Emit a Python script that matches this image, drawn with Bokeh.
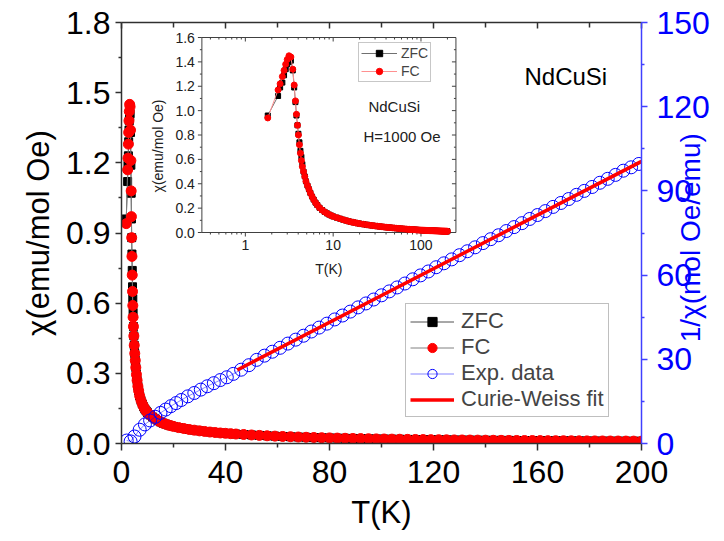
import math
from bokeh.plotting import figure
from bokeh.models import Range1d, LinearAxis, FixedTicker, Legend, LegendItem, Label, LogScale
from bokeh.core.properties import value
from bokeh.embed import file_html
from bokeh.resources import INLINE

FONT = "Liberation Sans"

# ---------------- data ----------------
T = [1.8, 2.36, 2.49, 2.64, 2.76, 2.88, 3.0, 3.14, 3.3, 3.47, 3.6, 3.72, 3.82, 3.92,
     4.02, 4.13, 4.24, 4.35, 4.46, 4.6, 4.75, 4.9, 5.1, 5.3, 5.5, 5.75, 6.0, 6.3, 6.6,
     7.0, 7.5, 8.0, 8.5, 9.0, 9.5, 10, 11, 12, 13, 14, 15, 16, 17, 18, 19, 20, 22, 24,
     26, 28, 30, 32, 34, 36, 38, 40, 42, 44, 47, 50, 53, 56, 59, 62, 65, 68, 71, 74,
     77, 80, 83, 86, 89, 92, 95, 98, 101, 104, 107, 110, 113, 116, 119, 122, 125, 128,
     131, 134, 137, 140, 143, 146, 149, 152, 155, 158, 161, 164, 167, 170, 173, 176,
     179, 182, 185, 188, 191, 194, 197, 200]

chi_fc = [0.94, 1.17, 1.22, 1.28, 1.33, 1.38, 1.42, 1.45, 1.44, 1.34, 1.21, 1.08, 0.97,
          0.88, 0.80, 0.72, 0.65, 0.59, 0.54, 0.50, 0.46, 0.42, 0.385, 0.355, 0.325, 0.295,
          0.27, 0.245, 0.225, 0.203, 0.184, 0.169, 0.157, 0.147, 0.139, 0.132, 0.122, 0.113,
          0.105, 0.098, 0.092, 0.087, 0.083, 0.079, 0.076, 0.073, 0.068, 0.064, 0.060, 0.057,
          0.054, 0.0515, 0.049, 0.047, 0.045, 0.0435, 0.042, 0.0405, 0.0385, 0.0365, 0.0347,
          0.0330, 0.0315, 0.0301, 0.0289, 0.0277, 0.0266, 0.0256, 0.0247, 0.0239, 0.0231,
          0.0223, 0.0216, 0.0210, 0.0203, 0.0197, 0.0192, 0.0187, 0.0182, 0.0177, 0.0173,
          0.0168, 0.0164, 0.0161, 0.0157, 0.0153, 0.0150, 0.0147, 0.0144, 0.0141, 0.0138,
          0.0135, 0.0133, 0.0130, 0.0128, 0.0126, 0.0123, 0.0121, 0.0119, 0.0117, 0.0115,
          0.0113, 0.0111, 0.0110, 0.0108, 0.0106, 0.0105, 0.0103, 0.0101, 0.0100]

chi_zfc_low = [0.96, 1.12, 1.19, 1.23, 1.29, 1.34, 1.38, 1.40, 1.41, 1.33, 1.19, 1.07,
               0.96, 0.88, 0.81, 0.74, 0.67, 0.62, 0.56]
chi_zfc = chi_zfc_low + chi_fc[len(chi_zfc_low):]

T_inv = [2, 3.5, 5, 7, 9, 11, 13, 15, 17, 19, 21, 23, 25.5, 28, 30.5, 33, 35.5, 38, 40.5,
         43, 46, 49, 52, 55, 58, 61, 64, 67, 70, 73, 76, 79, 82, 85, 88, 91, 94, 97, 100,
         103, 106, 109, 112, 115, 118, 121, 124, 127, 130, 133, 136, 139, 142, 145, 148,
         151, 154, 157, 160, 163, 166, 169, 172, 175, 178, 181, 184, 187, 190, 193, 196, 199]
inv_chi = [1.06, 0.75, 2.5, 4.9, 6.8, 8.2, 9.5, 10.9, 12.1, 13.3, 14.4, 15.5, 16.8, 18.0,
           19.2, 20.4, 21.5, 22.6, 23.6, 24.8, 26.3, 27.9, 29.8, 31.3, 32.7, 34.1, 35.6,
           37.0, 38.4, 39.9, 41.3, 42.7, 44.2, 45.6, 47.0, 48.5, 49.9, 51.3, 52.8, 54.2,
           55.6, 57.0, 58.5, 59.9, 61.3, 62.8, 64.2, 65.6, 67.1, 68.5, 69.9, 71.4, 72.8,
           74.2, 75.7, 77.1, 78.5, 80.0, 81.4, 82.8, 84.3, 85.7, 87.1, 88.6, 90.0, 91.4,
           92.9, 94.3, 95.7, 97.2, 98.4, 99.6]

T_fit = [44.5, 200]
inv_fit = [26.2, 100.5]

x_ticks = [0, 40, 80, 120, 160, 200]
x_minor = [20, 60, 100, 140, 180]
y_ticks = [0.0, 0.3, 0.6, 0.9, 1.2, 1.5, 1.8]
y_minor = [0.15, 0.45, 0.75, 1.05, 1.35, 1.65]
r_ticks = [0, 30, 60, 90, 120, 150]
r_minor = [15, 45, 75, 105, 135]

# inset axes
ix_lo, ix_hi = 0.32, 250
iy_lo, iy_hi = 0.0, 1.6
ix_ticks = [1, 10, 100]
ix_labels = ["1", "10", "100"]
ix_minor = [0.4, 0.5, 0.6, 0.7, 0.8, 0.9, 2, 3, 4, 5, 6, 7, 8, 9,
            20, 30, 40, 50, 60, 70, 80, 90, 200]
iy_ticks = [0.0, 0.2, 0.4, 0.6, 0.8, 1.0, 1.2, 1.4, 1.6]
iy_labels = ["0.0", "0.2", "0.4", "0.6", "0.8", "1.0", "1.2", "1.4", "1.6"]
iy_minor = [0.1, 0.3, 0.5, 0.7, 0.9, 1.1, 1.3, 1.5]

AX = "#303030"
BLUE = "#0000ff"

# ---------------- layout geometry (pixels on the canvas) ----------------
W, H = 724, 540
FRAME_L, FRAME_R, FRAME_T, FRAME_B = 121, 645, 22, 443
INS_L, INS_R, INS_T, INS_B = 202, 458, 37, 232

dec_per_px = (math.log10(ix_hi) - math.log10(ix_lo)) / (INS_R - INS_L)
ix_frame_lo = 10 ** (math.log10(ix_lo) - (INS_L - FRAME_L) * dec_per_px)
ix_frame_hi = 10 ** (math.log10(ix_hi) + (FRAME_R - INS_R) * dec_per_px)
val_per_px = (iy_hi - iy_lo) / (INS_B - INS_T)
iy_frame_lo = iy_lo - (FRAME_B - INS_B) * val_per_px
iy_frame_hi = iy_hi + (INS_T - FRAME_T) * val_per_px

# ---------------- main figure ----------------
p = figure(width=W, height=H, x_range=Range1d(0, 200), y_range=Range1d(0, 1.8),
           output_backend="svg", toolbar_location=None,
           min_border_left=FRAME_L, min_border_top=FRAME_T,
           min_border_right=W - FRAME_R, min_border_bottom=H - FRAME_B)
p.outline_line_color = None
p.xgrid.grid_line_color = None
p.ygrid.grid_line_color = None
p.extra_y_ranges = {"inv": Range1d(0, 150), "iy": Range1d(iy_frame_lo, iy_frame_hi)}
p.extra_x_ranges = {"ix": Range1d(ix_frame_lo, ix_frame_hi)}
p.extra_x_scales = {"ix": LogScale()}

def style_axis(ax, size="32px"):
    ax.axis_line_color = AX
    ax.axis_line_width = 1.5
    ax.major_tick_line_color = AX
    ax.minor_tick_line_color = AX
    ax.major_tick_line_width = 1.5
    ax.minor_tick_line_width = 1.5
    ax.major_label_text_font = FONT
    ax.major_label_text_font_size = size
    ax.major_label_text_color = "black"
    ax.axis_label_text_font = FONT
    ax.axis_label_text_font_style = "normal"
    ax.axis_label_text_color = "black"

xb = p.xaxis[0]
xb.ticker = FixedTicker(ticks=x_ticks, minor_ticks=x_minor)
style_axis(xb)
xb.axis_label = "T(K)"
xb.axis_label_text_font_size = "31px"
xb.major_tick_out = 7
xb.major_tick_in = 0
xb.minor_tick_out = 4
xb.minor_tick_in = 0
xb.major_label_standoff = 10
xb.axis_label_standoff = 9

yl = p.yaxis[0]
yl.ticker = FixedTicker(ticks=y_ticks, minor_ticks=y_minor)
style_axis(yl)
yl.major_label_overrides = {0: "0.0"}
yl.axis_label = "χ(emu/mol Oe)"
yl.axis_label_text_font_size = "31px"
yl.major_tick_out = 6
yl.major_tick_in = 0
yl.minor_tick_out = 3
yl.minor_tick_in = 0
yl.major_label_standoff = 5
yl.axis_label_standoff = 7

xt = LinearAxis(ticker=FixedTicker(ticks=x_ticks, minor_ticks=x_minor))
style_axis(xt)
xt.major_label_text_font_size = "1px"
xt.major_label_text_color = None
xt.major_label_standoff = 0
xt.major_tick_out = 0
xt.major_tick_in = 6
xt.minor_tick_out = 0
xt.minor_tick_in = 5
p.add_layout(xt, "above")

yr = LinearAxis(y_range_name="inv", ticker=FixedTicker(ticks=r_ticks, minor_ticks=r_minor))
style_axis(yr)
yr.axis_line_color = "#4040ff"
yr.major_tick_line_color = "#4040ff"
yr.minor_tick_line_color = "#4040ff"
yr.major_label_text_color = BLUE
yr.major_tick_out = 6
yr.major_tick_in = 0
yr.minor_tick_out = 3
yr.minor_tick_in = 0
yr.major_label_standoff = 9
# the title reads bottom-to-top; it starts from the foot of the axis, the
# no-break spaces lift it to where the reference shows it
yr.axis_label = "\u00a0" * 13 + "1/χ(mol Oe/emu)"
yr.axis_label_text_color = BLUE
yr.axis_label_text_font_size = "28px"
yr.axis_label_standoff = -22
yr.axis_label_orientation = math.pi / 2
yr.axis_label_align = "start"
p.add_layout(yr, "right")

# ---- main data ----
zl = p.line(T, chi_zfc, line_color="#505050", line_width=1)
zs = p.scatter(T, chi_zfc, marker="square", size=8, fill_color="black", line_color="black")
fl = p.line(T, chi_fc, line_color="#808080", line_width=1)
fs = p.scatter(T, chi_fc, marker="circle", size=10, fill_color="red", line_color="red")
il = p.line(T_inv, inv_chi, y_range_name="inv", line_color=BLUE, line_width=0.8, line_alpha=0.6)
isc = p.scatter(T_inv, inv_chi, y_range_name="inv", marker="circle", size=13,
                fill_color=None, line_color=BLUE, line_width=1)
cw = p.line(T_fit, inv_fit, y_range_name="inv", line_color="red", line_width=3.5)

leg = Legend(items=[LegendItem(label="ZFC", renderers=[zl, zs]),
                    LegendItem(label="FC", renderers=[fl, fs]),
                    LegendItem(label="Exp. data", renderers=[il, isc]),
                    LegendItem(label="Curie-Weiss fit", renderers=[cw])],
             location=(405 - FRAME_L, FRAME_B - 417), label_text_font=FONT,
             label_text_font_size="22px",
             glyph_width=44, glyph_height=23, label_height=23, label_standoff=7,
             spacing=0, padding=4, margin=0, border_line_color="#808080",
             border_line_width=1.2, background_fill_color="white", background_fill_alpha=1)
p.add_layout(leg)

p.add_layout(Label(x=155, y=1.57, text="NdCuSi", text_font=FONT, text_font_size="24px",
                   text_baseline="middle", text_color="black"))

# ---------------- inset (drawn on its own log/linear scales) ----------------
IK = dict(x_range_name="ix", y_range_name="iy")
IAX = "#404040"
p.quad(left=[ix_lo], right=[ix_hi], bottom=[iy_lo], top=[iy_hi], fill_color=None,
       line_color=IAX, line_width=1, **IK)

def ticks(xs, ys, length, angle):
    p.ray(x=xs, y=ys, length=length, length_units="screen", angle=angle,
          line_color=IAX, line_width=1, **IK)

down, left = -math.pi / 2, math.pi
ticks(ix_ticks, [iy_lo] * len(ix_ticks), 4, down)          # bottom, outward
ticks(ix_minor, [iy_lo] * len(ix_minor), 2, down)
ticks(ix_ticks, [iy_hi] * len(ix_ticks), 4, down)          # top, inward
ticks(ix_minor, [iy_hi] * len(ix_minor), 2, down)
ticks([ix_lo] * len(iy_ticks), iy_ticks, 4, left)          # left, outward
ticks([ix_lo] * len(iy_minor), iy_minor, 2, left)
ticks([ix_hi] * len(iy_ticks), iy_ticks, 4, left)          # right, inward
ticks([ix_hi] * len(iy_minor), iy_minor, 2, left)

TXT = dict(text_font=value(FONT), text_color="#202020", **IK)
p.text(x=ix_ticks, y=[iy_lo] * len(ix_ticks), text=ix_labels, y_offset=7,
       text_align="center", text_baseline="top", text_font_size=value("14px"), **TXT)
p.text(x=[ix_lo] * len(iy_ticks), y=iy_ticks, text=iy_labels, x_offset=-7,
       text_align="right", text_baseline="middle", text_font_size=value("14px"), **TXT)
p.text(x=[math.sqrt(ix_lo * ix_hi)], y=[iy_lo], text=["T(K)"], y_offset=36,
       text_align="center", text_baseline="middle", text_font_size=value("14px"), **TXT)
p.text(x=[ix_lo], y=[0.71], text=["χ(emu/mol Oe)"], x_offset=-44, angle=math.pi / 2,
       text_align="center", text_baseline="middle", text_font_size=value("14px"), **TXT)

i_zl = p.line(T, chi_zfc, line_color="#707070", line_width=1, **IK)
i_zs = p.scatter(T, chi_zfc, marker="square", size=5, fill_color="black", line_color="black", **IK)
i_fl = p.line(T, chi_fc, line_color="#ff9090", line_width=1, **IK)
i_fs = p.scatter(T, chi_fc, marker="circle", size=6, fill_color="red", line_color="red", **IK)

ileg = Legend(items=[LegendItem(label="ZFC", renderers=[i_zl, i_zs]),
                     LegendItem(label="FC", renderers=[i_fl, i_fs])],
              location=(358 - FRAME_L, FRAME_B - 82), label_text_font=FONT,
              label_text_font_size="14px",
              glyph_width=36, glyph_height=16, label_height=16, label_standoff=4,
              spacing=2, padding=2, margin=0, border_line_color="#909090",
              border_line_width=1, background_fill_color="white", background_fill_alpha=1)
p.add_layout(ileg)

p.add_layout(Label(x=25.2, y=1.037, text="NdCuSi", text_font=FONT, text_font_size="15px",
                   text_baseline="middle", text_color="#202020", **IK))
p.add_layout(Label(x=22.1, y=0.79, text="H=1000 Oe", text_font=FONT, text_font_size="15px",
                   text_baseline="middle", text_color="#202020", **IK))

open("out.html", "w").write(file_html(p, INLINE))
